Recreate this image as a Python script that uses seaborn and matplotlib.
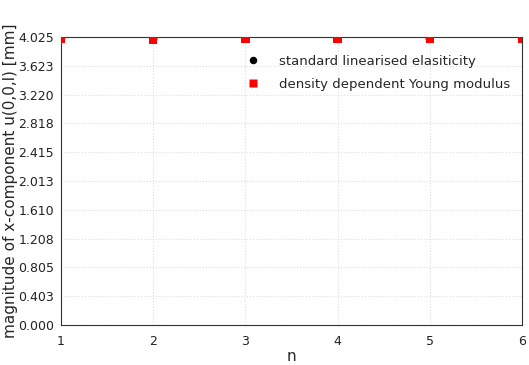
import seaborn as sns
import matplotlib.pyplot as plt
import numpy as np
import pandas as pd
from matplotlib.ticker import FixedLocator

# values
n_values = [1, 2, 3, 4, 5, 6]
u_standard = [4.000, 3.998, 3.998, 3.998, 3.998, 3.998]
u_density = [3.994, 3.992, 3.995, 3.995, 3.995, 3.995]
y_ticks = [0.000, 0.403, 0.805, 1.208, 1.610, 2.013, 2.415, 2.818, 3.220, 3.623, 4.025]

df = pd.DataFrame({'n': n_values,
                   'standard linearised elasiticity': u_standard,
                   'density dependent Young modulus': u_density})
df_long = df.melt('n', var_name='method', value_name='u')

sns.set_style('white')
plt.rcParams['font.family'] = ['DejaVu Sans']

fig = plt.figure(figsize=(5.29, 3.65), dpi=100)
ax = fig.add_axes([0.1153, 0.1096, 0.8715, 0.789])

sns.scatterplot(data=df_long, x='n', y='u', hue='method', style='method',
                palette=['black', 'red'], markers=['o', 's'], s=36,
                edgecolor='none', ax=ax, zorder=3)

ax.set_xlim(1, 6)
ax.set_ylim(0, 4.025)
ax.set_xticks(n_values)
ax.yaxis.set_major_locator(FixedLocator(y_ticks))
ax.set_yticklabels([f'{t:.3f}' for t in y_ticks])
ax.yaxis.set_minor_locator(FixedLocator([(a + b) / 2 for a, b in zip(y_ticks[:-1], y_ticks[1:])]))
ax.tick_params(axis='both', labelsize=9, direction='out', length=4, width=0.8,
               colors='#222222', pad=1)
ax.tick_params(axis='x', pad=3)
ax.tick_params(axis='y', which='minor', length=2.5)
ax.grid(True, which='major', color='#dddddd', linestyle=':', linewidth=0.8)

for s in ax.spines.values():
    s.set_color('#333333')
    s.set_linewidth(0.8)

ax.set_xlabel('n', fontsize=11, labelpad=1)
ax.set_ylabel('magnitude of x-component u(0,0,l) [mm]', fontsize=11, labelpad=0)

leg = ax.legend(loc='upper right', bbox_to_anchor=(1.0, 0.98), frameon=False,
                fontsize=9.5, handletextpad=1.0, markerscale=0.9, labelspacing=0.75)

fig.savefig('out.png', dpi=100)
